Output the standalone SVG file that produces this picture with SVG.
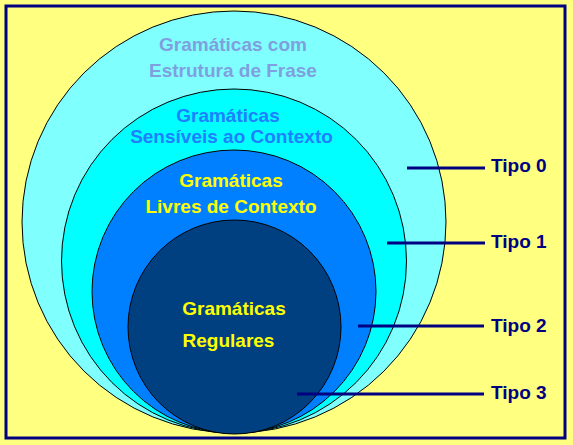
<svg xmlns="http://www.w3.org/2000/svg" width="573" height="445" viewBox="0 0 573 445">
<style>
.c{stroke:#000;stroke-width:1}
.t{font-family:"Liberation Sans",Arial,sans-serif;font-weight:bold;font-size:19px;text-anchor:middle}
.lbl{font-family:"Liberation Sans",Arial,sans-serif;font-weight:bold;font-size:19px;fill:#000080}
.ln{stroke:#000080;stroke-width:3;fill:none}
</style>
<rect x="0" y="0" width="573" height="445" fill="#FFFF80"/>
<rect x="6" y="6" width="559" height="432" fill="none" stroke="#000080" stroke-width="3"/>
<g id="tipo0">
<ellipse class="c" cx="234" cy="222" rx="212" ry="211" fill="#80FFFF"/>
<text class="t" x="233" y="51" fill="#7F9FDF">Gramáticas com</text>
<text class="t" x="233" y="77" fill="#7F9FDF">Estrutura de Frase</text>
</g>
<g id="tipo1">
<ellipse class="c" cx="234" cy="261" rx="172.5" ry="172" fill="#00FFFF"/>
<text class="t" x="228" y="122" fill="#1E80FF">Gramáticas</text>
<text class="t" x="231.5" y="143" fill="#1E80FF">Sensíveis ao Contexto</text>
</g>
<g id="tipo2">
<ellipse class="c" cx="234" cy="291.5" rx="142" ry="141.5" fill="#0080FF"/>
<text class="t" x="231" y="187" fill="#FFFF00">Gramáticas</text>
<text class="t" x="231" y="213" fill="#FFFF00">Livres de Contexto</text>
</g>
<g id="tipo3">
<ellipse class="c" cx="234.5" cy="327" rx="106.5" ry="107" fill="#004080"/>
<text class="t" x="234" y="315" fill="#FFFF00">Gramáticas</text>
<text class="t" x="228.5" y="347" fill="#FFFF00">Regulares</text>
</g>
<g id="connectors">
<line class="ln" x1="407" y1="168" x2="485" y2="168"/>
<line class="ln" x1="387" y1="243" x2="485" y2="243"/>
<line class="ln" x1="358" y1="326" x2="484" y2="326"/>
<line class="ln" x1="297" y1="394" x2="484" y2="394"/>
</g>
<g id="labels">
<text class="lbl" x="491" y="172">Tipo 0</text>
<text class="lbl" x="491" y="248">Tipo 1</text>
<text class="lbl" x="491" y="332">Tipo 2</text>
<text class="lbl" x="491" y="399">Tipo 3</text>
</g>
</svg>
